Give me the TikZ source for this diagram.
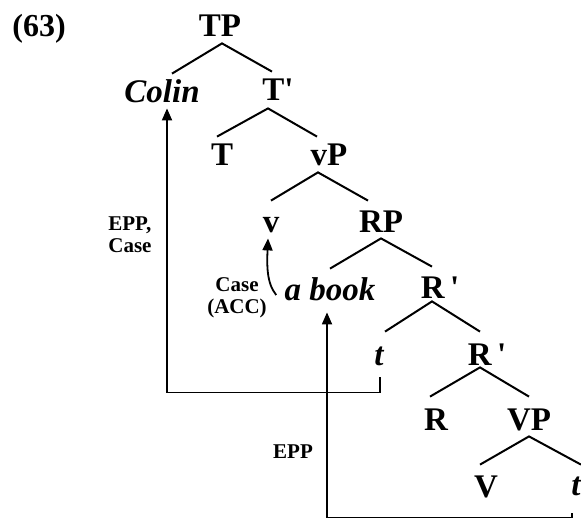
\documentclass[tikz,border=0pt]{standalone}
\usepackage{fontspec}
\setmainfont{Liberation Serif}
\usetikzlibrary{calc,arrows.meta}
\begin{document}
\begin{tikzpicture}[x=0.5pt,y=-0.5pt,
  lab/.style={font=\fontsize{16.5}{18}\selectfont\bfseries, inner xsep=0pt, inner ysep=3pt, text height=11pt, text depth=0pt, anchor=base},
  itlab/.style={lab, font=\fontsize{16.5}{18}\selectfont\bfseries\itshape},
  small/.style={font=\fontsize{10.5}{11}\selectfont\bfseries, align=left, inner sep=0pt},
  smallc/.style={small, align=center},
  exnum/.style={font=\fontsize{16}{18}\selectfont\bfseries, anchor=base, inner sep=0pt},
  branch/.style={line width=1pt},
  mv/.style={line width=0.9pt, -{Triangle[length=6pt,width=5pt]}},
]
\useasboundingbox (0,0) rectangle (581,519);

% labels
\node[exnum] (ex) at (39,37) {(63)};
\node[lab] (TP) at (220,37) {TP};
\node[itlab] (Colin) at (162,102) {Colin};
\node[lab] (Tbar) at (278,100) {T\textquotesingle};
\node[lab] (T) at (222,165) {T};
\node[lab] (vP) at (329,165) {vP};
\node[lab] (v) at (271,232) {v};
\node[lab] (RP) at (381,232) {RP};
\node[itlab] (abook) at (330,300) {a book};
\node[lab] (Rbar1) at (440,298) {R\,\textquotesingle};
\node[itlab] (t1) at (379,365) {t};
\node[lab] (Rbar2) at (487,365) {R\,\textquotesingle};
\node[lab] (R) at (436,430) {R};
\node[lab] (VP) at (529,430) {VP};
\node[lab] (V) at (486,497) {V};
\node[itlab] (t2) at (576,495) {t};

\node[small, anchor=west] (epp1) at (108,235) {EPP,\\Case};
\node[smallc] (caseacc) at (237,298) {Case\\(ACC)};
\node[small] (epp2) at (293,452) {EPP};

% branches
\draw[branch] ($(Colin.north)+(10,0)$) -- ($(TP.south)+(2,0)$) -- ($(Tbar.north)+(-6,0)$);
\draw[branch] ($(T.north)+(-5,0)$) -- ($(Tbar.south)+(-10,2)$) -- ($(vP.north)+(-12,0)$);
\draw[branch] ($(v.north)+(0,-3)$) -- ($(vP.south)+(-11,1)$) -- ($(RP.north)+(-13,-3)$);
\draw[branch] ($(abook.north)+(0,-3)$) -- (RP.south) -- ($(Rbar1.north)+(-8,-3)$);
\draw[branch] ($(t1.north)+(6,-5)$) -- ($(Rbar1.south)+(-8,-3)$) -- ($(Rbar2.north)+(-7,-5)$);
\draw[branch] ($(R.north)+(-6,-5)$) -- ($(Rbar2.south)+(-7,-4)$) -- ($(VP.north)+(0,-5)$);
\draw[branch] ($(V.north)+(-6,-4)$) -- (VP.south) -- ($(t2.north)+(5,-2)$);

% movement arrows
\draw[mv] ($(t1.south)+(1,6)$) -- ++(0,15) -| ($(Colin.south)+(5,0)$);
\draw[mv] ($(t2.south)+(-4,12)$) -- ++(0,4) -| ($(abook.south)+(-3,6)$);
\draw[mv] ($(abook.base west)+(-8,-5)$) .. controls +(-10,-12) and +(-1,25) .. ($(v.south)+(-3,0)$);
\end{tikzpicture}
\end{document}
